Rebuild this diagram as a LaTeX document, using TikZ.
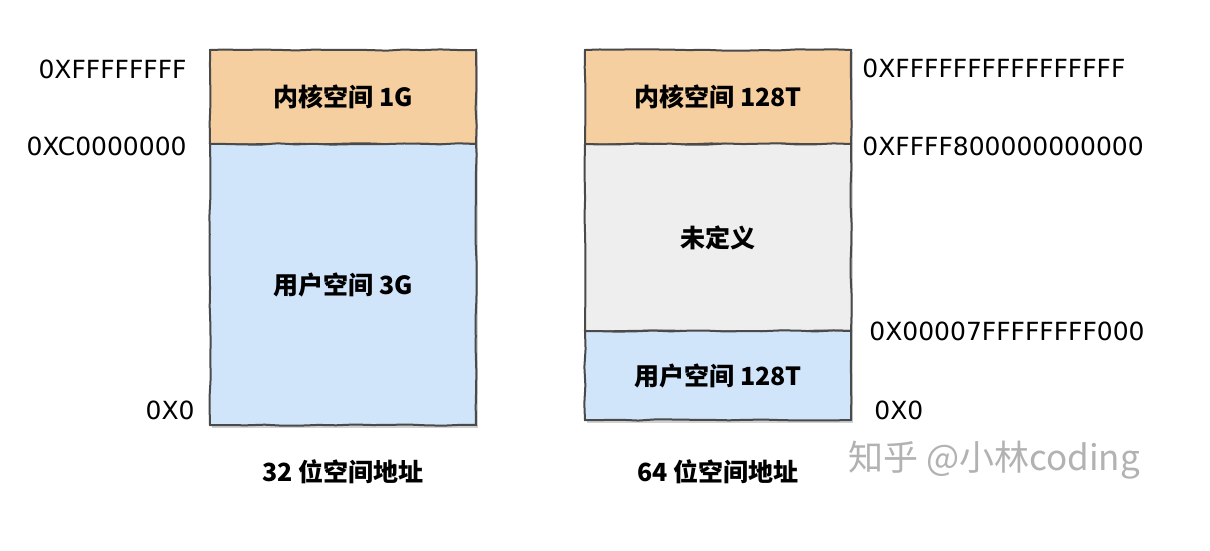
\documentclass[tikz,border=0pt]{standalone}
\usepackage{fontspec}
\setmainfont{Noto Sans CJK SC}
\newfontfamily\addrfont{DejaVu Sans}
\usetikzlibrary{decorations.pathmorphing}

\definecolor{kernelc}{HTML}{F5CFA0}
\definecolor{userc}{HTML}{D0E4FA}
\definecolor{undefc}{HTML}{EEEEEE}
\definecolor{linec}{HTML}{4A4A4A}

\begin{document}
\begin{tikzpicture}[x=0.5pt,y=-0.5pt,
		seg/.style={draw=linec,line width=1pt,minimum width=133pt,inner sep=0pt,
			decorate,decoration={random steps,segment length=9pt,amplitude=0.35pt},
			font=\fontsize{12.5}{14}\selectfont\bfseries},
		addr/.style={inner sep=0pt,font=\addrfont\fontsize{12.5}{14}\selectfont},
		caption/.style={inner sep=0pt,font=\fontsize{12.5}{14}\selectfont\bfseries}]
				\useasboundingbox[fill=white] (0,0) rectangle (1210,551);
				% shadows
				\fill[black!18] (212,52) rectangle (478,428);
				\fill[black!18] (587,52) rectangle (853,423);
				% 32 bit
				\node[seg,fill=kernelc,minimum height=47pt] (k32) at (343,97) {内核空间 1G};
				\node[seg,fill=userc,minimum height=140.5pt] (u32) at (343,284.5) {用户空间 3G};
				\node[addr,anchor=east] (a32top) at (187,69) {0XFFFFFFFF};
				\node[addr,anchor=east] (a32mid) at (187,146) {0XC0000000};
				\node[addr,anchor=east] (a32bot) at (195,410) {0X0};
				\node[caption] (c32) at (343,472) {32 位空间地址};
				% 64 bit
				\node[seg,fill=kernelc,minimum height=47pt] (k64) at (718,97) {内核空间 128T};
				\node[seg,fill=undefc,minimum height=93.5pt] (n64) at (718,237.5) {未定义};
				\node[seg,fill=userc,minimum height=44.5pt] (u64) at (718,375.5) {用户空间 128T};
				\node[addr,anchor=west] (a64top) at (862,68) {0XFFFFFFFFFFFFFFFF};
				\node[addr,anchor=west] (a64mid) at (862,146) {0XFFFF800000000000};
				\node[addr,anchor=west] (a64low) at (869,331) {0X00007FFFFFFFF000};
				\node[addr,anchor=west] (a64bot) at (874,410) {0X0};
				\node[caption] (c64) at (718,472) {64 位空间地址};
				\node[inner sep=0pt,anchor=west,text=black!30,font=\fontsize{17.5}{19}\selectfont] (mark) at (848,460) {知乎 @小林coding};
			\end{tikzpicture}
\end{document}
